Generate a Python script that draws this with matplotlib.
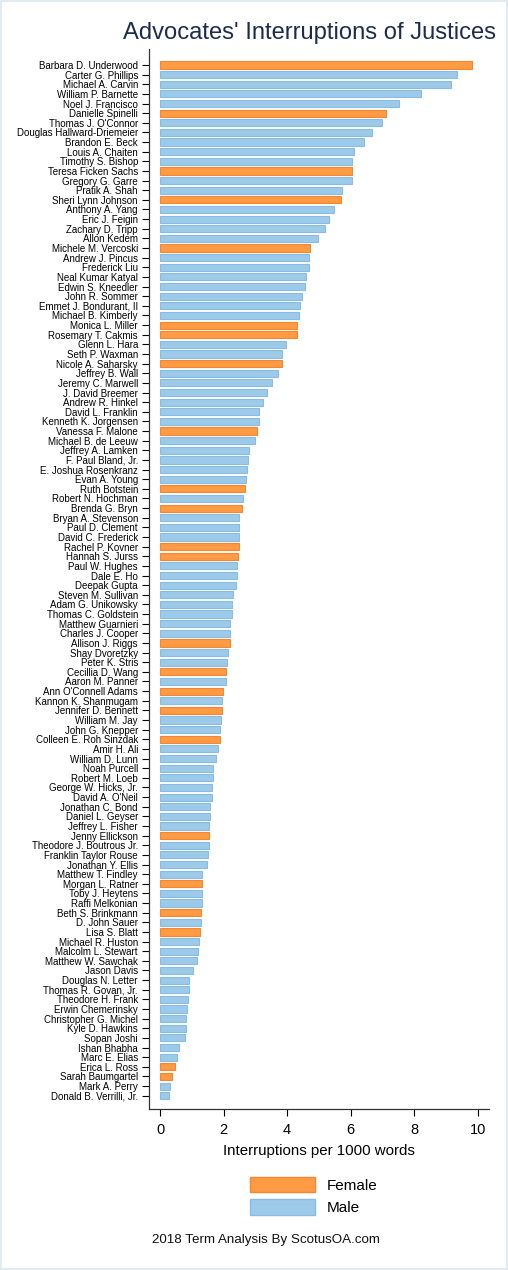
import matplotlib.pyplot as plt
from matplotlib.patches import Patch, Rectangle

names = [
    "Barbara D. Underwood", "Carter G. Phillips", "Michael A. Carvin", "William P. Barnette",
    "Noel J. Francisco", "Danielle Spinelli", "Thomas J. O'Connor", "Douglas Hallward-Driemeier",
    "Brandon E. Beck", "Louis A. Chaiten", "Timothy S. Bishop", "Teresa Ficken Sachs",
    "Gregory G. Garre", "Pratik A. Shah", "Sheri Lynn Johnson",
    "Anthony A. Yang", "Eric J. Feigin", "Zachary D. Tripp", "Allon Kedem",
    "Michele M. Vercoski", "Andrew J. Pincus", "Frederick Liu", "Neal Kumar Katyal",
    "Edwin S. Kneedler", "John R. Sommer", "Emmet J. Bondurant, II", "Michael B. Kimberly",
    "Monica L. Miller", "Rosemary T. Cakmis", "Glenn L. Hara",
    "Seth P. Waxman", "Nicole A. Saharsky", "Jeffrey B. Wall", "Jeremy C. Marwell",
    "J. David Breemer", "Andrew R. Hinkel", "David L. Franklin", "Kenneth K. Jorgensen",
    "Vanessa F. Malone", "Michael B. de Leeuw", "Jeffrey A. Lamken", "F. Paul Bland, Jr.",
    "E. Joshua Rosenkranz", "Evan A. Young", "Ruth Botstein",
    "Robert N. Hochman", "Brenda G. Bryn", "Bryan A. Stevenson", "Paul D. Clement",
    "David C. Frederick", "Rachel P. Kovner", "Hannah S. Jurss", "Paul W. Hughes",
    "Dale E. Ho", "Deepak Gupta", "Steven M. Sullivan", "Adam G. Unikowsky",
    "Thomas C. Goldstein", "Matthew Guarnieri", "Charles J. Cooper",
    "Allison J. Riggs", "Shay Dvoretzky", "Peter K. Stris", "Cecillia D. Wang",
    "Aaron M. Panner", "Ann O'Connell Adams", "Kannon K. Shanmugam", "Jennifer D. Bennett",
    "William M. Jay", "John G. Knepper", "Colleen E. Roh Sinzdak", "Amir H. Ali",
    "William D. Lunn", "Noah Purcell", "Robert M. Loeb",
    "George W. Hicks, Jr.", "David A. O'Neil", "Jonathan C. Bond", "Daniel L. Geyser",
    "Jeffrey L. Fisher", "Jenny Ellickson", "Theodore J. Boutrous Jr.", "Franklin Taylor Rouse",
    "Jonathan Y. Ellis", "Matthew T. Findley", "Morgan L. Ratner", "Toby J. Heytens",
    "Raffi Melkonian", "Beth S. Brinkmann", "D. John Sauer",
    "Lisa S. Blatt", "Michael R. Huston", "Malcolm L. Stewart", "Matthew W. Sawchak",
    "Jason Davis", "Douglas N. Letter", "Thomas R. Govan, Jr.", "Theodore H. Frank",
    "Erwin Chemerinsky", "Christopher G. Michel", "Kyle D. Hawkins", "Sopan Joshi",
    "Ishan Bhabha", "Marc E. Elias", "Erica L. Ross", "Sarah Baumgartel",
    "Mark A. Perry", "Donald B. Verrilli, Jr.",
]

rates = [
    9.81, 9.36, 9.16, 8.23, 7.53, 7.13, 7.00, 6.66, 6.42, 6.12, 6.05, 6.04, 6.03, 5.72, 5.70,
    5.49, 5.33, 5.18, 4.96, 4.73, 4.70, 4.69, 4.59, 4.55, 4.48, 4.41, 4.38, 4.32, 4.30, 3.96,
    3.83, 3.83, 3.70, 3.51, 3.38, 3.25, 3.12, 3.10, 3.06, 2.99, 2.81, 2.78, 2.74, 2.72, 2.66,
    2.61, 2.58, 2.50, 2.50, 2.48, 2.47, 2.46, 2.43, 2.43, 2.39, 2.30, 2.28, 2.27, 2.21, 2.20,
    2.19, 2.13, 2.10, 2.08, 2.06, 1.97, 1.95, 1.95, 1.93, 1.90, 1.90, 1.82, 1.75, 1.68, 1.66,
    1.63, 1.62, 1.58, 1.57, 1.55, 1.54, 1.53, 1.52, 1.49, 1.33, 1.33, 1.32, 1.32, 1.30, 1.29,
    1.27, 1.24, 1.20, 1.15, 1.05, 0.92, 0.90, 0.88, 0.85, 0.82, 0.80, 0.79, 0.58, 0.54, 0.48,
    0.38, 0.32, 0.28,
]

female = {
    "Barbara D. Underwood", "Danielle Spinelli", "Teresa Ficken Sachs", "Sheri Lynn Johnson",
    "Michele M. Vercoski", "Monica L. Miller", "Rosemary T. Cakmis", "Nicole A. Saharsky",
    "Vanessa F. Malone", "Ruth Botstein", "Brenda G. Bryn", "Rachel P. Kovner",
    "Hannah S. Jurss", "Allison J. Riggs", "Cecillia D. Wang", "Ann O'Connell Adams",
    "Jennifer D. Bennett", "Colleen E. Roh Sinzdak", "Jenny Ellickson", "Morgan L. Ratner",
    "Beth S. Brinkmann", "Lisa S. Blatt", "Erica L. Ross", "Sarah Baumgartel",
}

F_FACE, F_EDGE = "#ff9a45", "#f5872e"
M_FACE, M_EDGE = "#9ecae9", "#87bde5"

plt.rcParams["font.family"] = ["Liberation Sans", "DejaVu Sans"]

fig = plt.figure(figsize=(5.08, 12.70), dpi=100)
ax = fig.add_axes([149 / 508, 1 - 1109 / 1270, 340 / 508, 1060 / 1270])

ypos = list(range(len(names)))
faces = [F_FACE if n in female else M_FACE for n in names]
edges = [F_EDGE if n in female else M_EDGE for n in names]
ax.barh(ypos, rates, height=0.74, color=faces, edgecolor=edges, linewidth=0.8)

ax.set_ylim(len(names) - 1 + 1.38, -1.66)
ax.set_xlim(-0.35, 10.36)
ax.set_yticks(ypos)
ax.set_yticklabels(names, fontsize=7.05)
ax.set_xticks([0, 2, 4, 6, 8, 10])
ax.tick_params(axis="y", length=5, width=0.8, pad=3)
ax.tick_params(axis="x", length=5, width=0.8, pad=5, labelsize=10.5)
ax.set_xlabel("Interruptions per 1000 words", fontsize=10.8, labelpad=5)
for s in ["top", "right"]:
    ax.spines[s].set_visible(False)
for s in ["left", "bottom"]:
    ax.spines[s].set_linewidth(0.9)
    ax.spines[s].set_color("#333333")

fig.text(496 / 508, 1 - 33 / 1270, "Advocates' Interruptions of Justices",
         ha="right", va="center", fontsize=17.1, color="#1f2b4e")

handles = [Patch(facecolor=F_FACE, edgecolor=F_EDGE, label="Female"),
           Patch(facecolor=M_FACE, edgecolor=M_EDGE, label="Male")]
fig.legend(handles=handles, loc="center left", bbox_to_anchor=(236 / 508, 1 - 1196 / 1270),
           frameon=False, fontsize=11, handlelength=4.3, handleheight=1.15,
           labelspacing=0.45, handletextpad=0.75)

fig.text(152 / 508, 1 - 1240 / 1270, "2018 Term Analysis By ScotusOA.com",
         ha="left", va="center", fontsize=9.6, color="#111111")

fig.patches.append(Rectangle((0.002, 0.001), 0.996, 0.998, transform=fig.transFigure,
                             fill=False, edgecolor="#e2ebef", linewidth=1.5))

fig.savefig("out.png", dpi=100)
